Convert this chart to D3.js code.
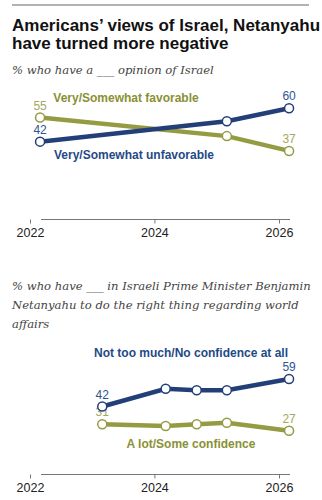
<!DOCTYPE html>
<html>
<head>
<meta charset="utf-8">
<script src="https://cdn.jsdelivr.net/npm/d3@7"></script>
<style>
  body { margin: 0; background: #fff; }
  .title { font-family: "Liberation Sans", Arial, sans-serif; font-weight: bold; font-size: 17px; fill: #111; }
  .sub { font-family: "DejaVu Serif", Georgia, serif; font-style: italic; font-size: 11.6px; fill: #444; }
  .tick-label { font-family: "Liberation Sans", Arial, sans-serif; font-size: 12.5px; fill: #222; }
  .series-label { font-family: "Liberation Sans", Arial, sans-serif; font-weight: bold; font-size: 12px; }
  .val { font-family: "Liberation Sans", Arial, sans-serif; font-size: 12px; }
</style>
</head>
<body>
<div id="chart-area"></div>
<script>
// chart 1: opinion of Israel
let israelDates = ["2022-03-01", "2025-03-01", "2026-03-01"];
let favorable = [55, 45, 37];
let unfavorable = [42, 53, 60];

// chart 2: confidence in Netanyahu
let bibiDates = ["2023-03-01", "2024-03-07", "2024-09-05", "2025-03-01", "2026-03-01"];
let confidence = [31, 30, 31, 32, 27];
let noConfidence = [42, 53, 52, 52, 59];

let tickYears = ["2022", "2024", "2026"];

let blueLine = "#233f78", blueText = "#1f4a87", blueVal = "#2f5591";
let greenLine = "#959b42", greenText = "#8a9035", greenVal = "#a3a85a";

let width = 322, height = 500;
let parse = d3.timeParse("%Y-%m-%d");

let svg = d3.select("#chart-area")
    .append("svg")
    .attr("width", width)
    .attr("height", height);

// top rule
svg.append("line")
    .attr("x1", 12).attr("x2", 309)
    .attr("y1", 5).attr("y2", 5)
    .attr("stroke", "#666").attr("stroke-width", 1);

svg.append("text").attr("class", "title").attr("x", 12).attr("y", 31)
    .text("Americans’ views of Israel, Netanyahu");
svg.append("text").attr("class", "title").attr("x", 12).attr("y", 49)
    .text("have turned more negative");

svg.append("text").attr("class", "sub").attr("x", 12).attr("y", 74)
    .text("% who have a ___ opinion of Israel");

["% who have ___ in Israeli Prime Minister Benjamin",
 "Netanyahu to do the right thing regarding world",
 "affairs"].forEach((t, i) => {
    svg.append("text").attr("class", "sub").attr("x", 12).attr("y", 290 + i * 19).text(t);
});

let x = d3.scaleTime()
    .domain([parse("2022-01-01"), parse("2026-01-01")])
    .range([30, 279]);

function drawAxis(y0) {
    let g = svg.append("g").attr("transform", "translate(0," + y0 + ")");
    g.append("line")
        .attr("x1", 41).attr("x2", 290)
        .attr("stroke", "#777").attr("stroke-width", 1);
    let axis = d3.axisBottom(x)
        .tickValues(tickYears.map(d => parse(d + "-01-01")))
        .tickFormat(d3.timeFormat("%Y"))
        .tickSize(4)
        .tickSizeOuter(0);
    g.call(axis);
    g.select(".domain").remove();
    g.selectAll(".tick line").attr("stroke", "#777");
    g.selectAll(".tick text")
        .attr("class", "tick-label")
        .attr("font-family", null).attr("font-size", null)
        .attr("dy", 0).attr("y", 17);
}

function drawSeries(dates, values, y, lineColor, valColor) {
    let data = dates.map((d, i) => ({ date: parse(d), value: values[i] }));
    let line = d3.line().x(d => x(d.date)).y(d => y(d.value));
    svg.append("path")
        .datum(data)
        .attr("d", line)
        .attr("fill", "none")
        .attr("stroke", lineColor)
        .attr("stroke-width", 4.5);
    svg.selectAll(null)
        .data(data)
        .enter()
        .append("circle")
        .attr("cx", d => x(d.date))
        .attr("cy", d => y(d.value))
        .attr("r", 4.5)
        .attr("fill", "#fff")
        .attr("stroke", lineColor)
        .attr("stroke-width", 1.5);
    // first and last values
    [data[0], data[data.length - 1]].forEach(d => {
        svg.append("text")
            .attr("class", "val")
            .attr("x", x(d.date))
            .attr("y", y(d.value) - 8)
            .attr("text-anchor", "middle")
            .attr("fill", valColor)
            .text(d.value);
    });
}

// chart 1
let y1 = d3.scaleLinear().domain([0, 60]).range([219.5, 108.3]);
drawAxis(219.5);
drawSeries(israelDates, favorable, y1, greenLine, greenVal);
drawSeries(israelDates, unfavorable, y1, blueLine, blueVal);
svg.append("text").attr("class", "series-label").attr("x", 126).attr("y", 102)
    .attr("text-anchor", "middle").attr("fill", greenText).text("Very/Somewhat favorable");
svg.append("text").attr("class", "series-label").attr("x", 134).attr("y", 159)
    .attr("text-anchor", "middle").attr("fill", blueText).text("Very/Somewhat unfavorable");

// chart 2
let y2 = d3.scaleLinear().domain([0, 59]).range([474.5, 379]);
drawAxis(474.5);
drawSeries(bibiDates, confidence, y2, greenLine, greenVal);
drawSeries(bibiDates, noConfidence, y2, blueLine, blueVal);
svg.append("text").attr("class", "series-label").attr("x", 191).attr("y", 356.5)
    .attr("text-anchor", "middle").attr("fill", blueText).text("Not too much/No confidence at all");
svg.append("text").attr("class", "series-label").attr("x", 191).attr("y", 448)
    .attr("text-anchor", "middle").attr("fill", greenText).text("A lot/Some confidence");
</script>
</body>
</html>
